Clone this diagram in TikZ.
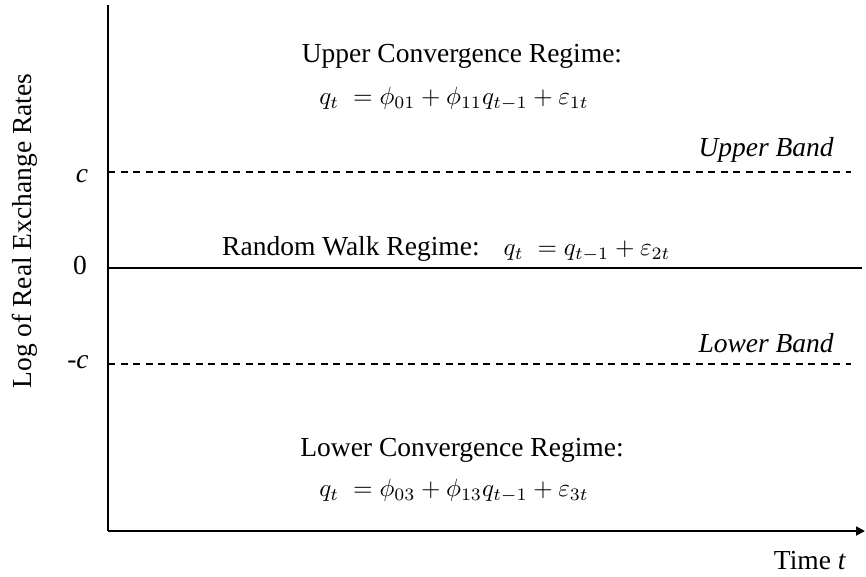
\documentclass[tikz,border=0pt]{standalone}
\usepackage{graphicx}
\usepackage{fontspec}
\setmainfont{Liberation Serif}
\usetikzlibrary{arrows.meta}
% math set at 10pt and enlarged to the size of the surrounding text
\newcommand{\bigmath}[1]{\scalebox{2.5}{\fontsize{10}{12}\selectfont$#1$}}
\begin{document}
\begin{tikzpicture}[x=1pt,y=-1pt,
  lbl/.style={font=\fontsize{27.5}{32}\selectfont, inner sep=0pt},
  axis/.style={line width=1.8pt},
  band/.style={line width=1.3pt, dash pattern=on 7pt off 5.5pt},
  zero/.style={line width=1.8pt}]
\useasboundingbox (0,0) rectangle (866,577);
% axes
\coordinate (top) at (108,5);
\coordinate (orig) at (108,531);
\coordinate (xend) at (865,531);
\draw[axis] (top) -- (orig);
\draw[axis, -{Triangle[length=9pt,width=9pt]}] (orig) -- (xend);
% band lines and zero line
\coordinate (cL) at (108,172);  \coordinate (cR) at (851,172);
\coordinate (zL) at (108,268);  \coordinate (zR) at (862,268);
\coordinate (mL) at (108,364);  \coordinate (mR) at (851,364);
\draw[band] (cL) -- (cR);
\draw[zero] (zL) -- (zR);
\draw[band] (mL) -- (mR);
% tick labels
\node[lbl] (cl) at (82,176) {\textit{c}};
\node[lbl] (zl) at (80,265) {0};
\node[lbl] (ml) at (78,362) {-\textit{c}};
% axis titles
\node[lbl, rotate=90] (ylab) at (25,231) {Log of Real Exchange Rates};
\node[lbl] (xlab) at (810,561) {Time \textit{t}};
% band names
\node[lbl, anchor=east] (ub) at (834,150) {\textit{Upper Band}};
\node[lbl, anchor=east] (lb) at (834,343) {\textit{Lower Band}};
% regimes
\node[lbl] (up1) at (462,56) {Upper Convergence Regime:};
\node[lbl] (up2) at (454,99) {\bigmath{q_t\;=\phi_{01}+\phi_{11}q_{t-1}+\varepsilon_{1t}}};
\node[lbl, anchor=west] (rw) at (222,249) {Random Walk Regime:\hspace{24pt}\bigmath{q_t\;=q_{t-1}+\varepsilon_{2t}}};
\node[lbl] (lo1) at (462,450) {Lower Convergence Regime:};
\node[lbl] (lo2) at (454,491) {\bigmath{q_t\;=\phi_{03}+\phi_{13}q_{t-1}+\varepsilon_{3t}}};
\end{tikzpicture}
\end{document}
